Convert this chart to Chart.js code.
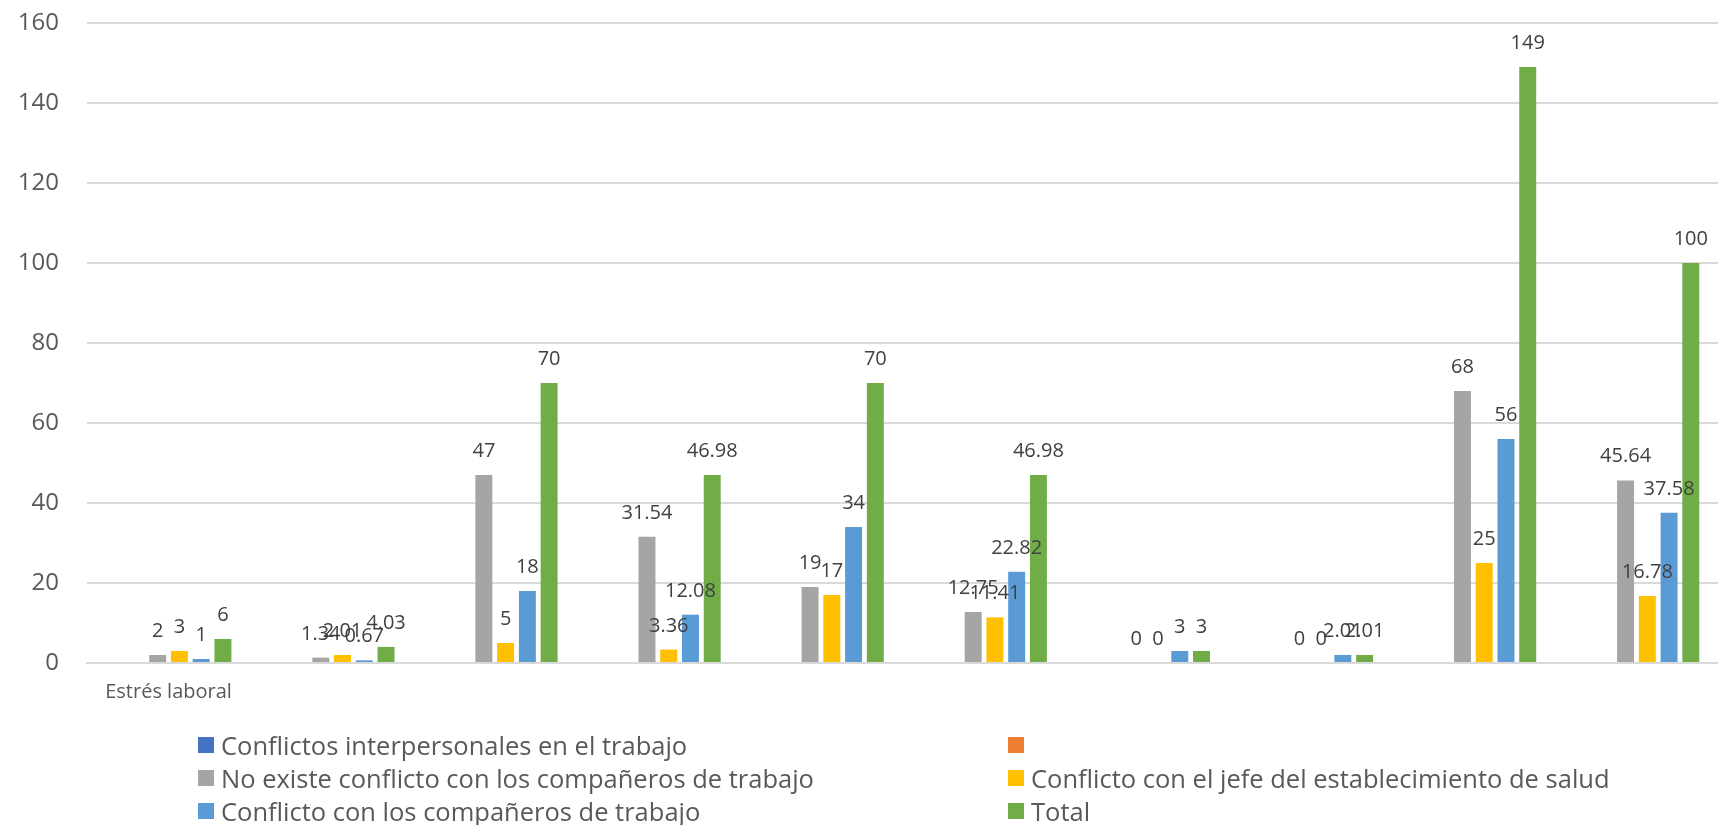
<!DOCTYPE html>
<html>
<head>
<meta charset="utf-8">
<script src="https://cdn.jsdelivr.net/npm/chart.js@4.4.1/dist/chart.umd.min.js"></script>
<style>
  html, body { margin: 0; padding: 0; background: #fff; }
  #wrap { position: relative; width: 1718px; height: 825px; }
  #legend {
    position: absolute; left: 198px; top: 731px;
    display: grid; grid-template-columns: 810px 600px; row-gap: 5px;
    font-family: "Open Sans", "Noto Sans", sans-serif; font-size: 25.5px; color: #595959;
  }
  #legend .item { display: flex; align-items: center; height: 28px; white-space: nowrap; }
  #legend .box { width: 16px; height: 16px; margin-right: 7px; flex: none; }
</style>
</head>
<body>
<div id="wrap">
  <canvas id="chart" width="1718" height="825"></canvas>
  <div id="legend"></div>
</div>
<script>
var categories = ['Estrés laboral', '', '', '', '', '', '', '', '', ''];
var seriesNames = [
  'Conflictos interpersonales en el trabajo',
  '',
  'No existe conflicto con los compañeros de trabajo',
  'Conflicto con el jefe del establecimiento de salud',
  'Conflicto con los compañeros de trabajo',
  'Total'
];
var conflictosInterpersonales = [null, null, null, null, null, null, null, null, null, null];
var sinNombre = [null, null, null, null, null, null, null, null, null, null];
var noExisteConflicto = [2, 1.34, 47, 31.54, 19, 12.75, 0, 0, 68, 45.64];
var conflictoJefe = [3, 2.01, 5, 3.36, 17, 11.41, 0, 0, 25, 16.78];
var conflictoCompaneros = [1, 0.67, 18, 12.08, 34, 22.82, 3, 2.01, 56, 37.58];
var total = [6, 4.03, 70, 46.98, 70, 46.98, 3, 2.01, 149, 100];
var yTicks = [0, 20, 40, 60, 80, 100, 120, 140, 160];

var colors = ['#4472C4', '#ED7D31', '#A5A5A5', '#FFC000', '#5B9BD5', '#70AD47'];
var allSeries = [conflictosInterpersonales, sinNombre, noExisteConflicto, conflictoJefe, conflictoCompaneros, total];

var datasets = allSeries.map(function(values, i) {
  return {
    label: seriesNames[i],
    data: values,
    backgroundColor: colors[i],
    categoryPercentage: 0.8,
    barPercentage: 0.78
  };
});

// value labels above each bar
var valueLabels = {
  id: 'valueLabels',
  afterDatasetsDraw: function(chart) {
    var ctx = chart.ctx;
    ctx.save();
    ctx.font = '20px "Open Sans", "Noto Sans", sans-serif';
    ctx.fillStyle = '#404040';
    ctx.textAlign = 'center';
    ctx.textBaseline = 'alphabetic';
    chart.data.datasets.forEach(function(ds, i) {
      var meta = chart.getDatasetMeta(i);
      meta.data.forEach(function(bar, j) {
        var v = ds.data[j];
        if (v === null || v === undefined) return;
        ctx.fillText(String(v), bar.x, bar.y - 18);
      });
    });
    ctx.restore();
  }
};

var ctx = document.getElementById('chart');
var myChart = new Chart(ctx, {
  type: 'bar',
  data: { labels: categories, datasets: datasets },
  plugins: [valueLabels],
  options: {
    responsive: false,
    animation: false,
    layout: { padding: { top: 23, right: 0, bottom: 117, left: 0 } },
    plugins: {
      legend: { display: false },
      title: { display: false },
      tooltip: { enabled: false }
    },
    scales: {
      x: {
        grid: { display: false, drawTicks: false },
        border: { color: '#d9d9d9', width: 2 },
        ticks: {
          autoSkip: false, maxRotation: 0, padding: 17,
          color: '#595959',
          font: { family: '"Open Sans", "Noto Sans", sans-serif', size: 20 }
        },
        afterFit: function(s) { s.height = 45; }
      },
      y: {
        min: 0, max: 160,
        afterBuildTicks: function(s) { s.ticks = yTicks.map(function(v) { return { value: v }; }); },
        grid: { color: '#d9d9d9', lineWidth: 2, drawTicks: false },
        border: { display: false },
        ticks: {
          padding: 28,
          color: '#595959',
          font: { family: '"Open Sans", "Noto Sans", sans-serif', size: 24 }
        },
        afterFit: function(s) { s.width = 87; s.paddingTop = 0; s.paddingBottom = 0; }
      }
    }
  }
});

// legend as html, two columns
var legend = document.getElementById('legend');
seriesNames.forEach(function(name, i) {
  var item = document.createElement('div');
  item.className = 'item';
  var box = document.createElement('span');
  box.className = 'box';
  box.style.background = colors[i];
  var txt = document.createElement('span');
  txt.textContent = name;
  item.appendChild(box);
  item.appendChild(txt);
  legend.appendChild(item);
});
</script>
</body>
</html>
